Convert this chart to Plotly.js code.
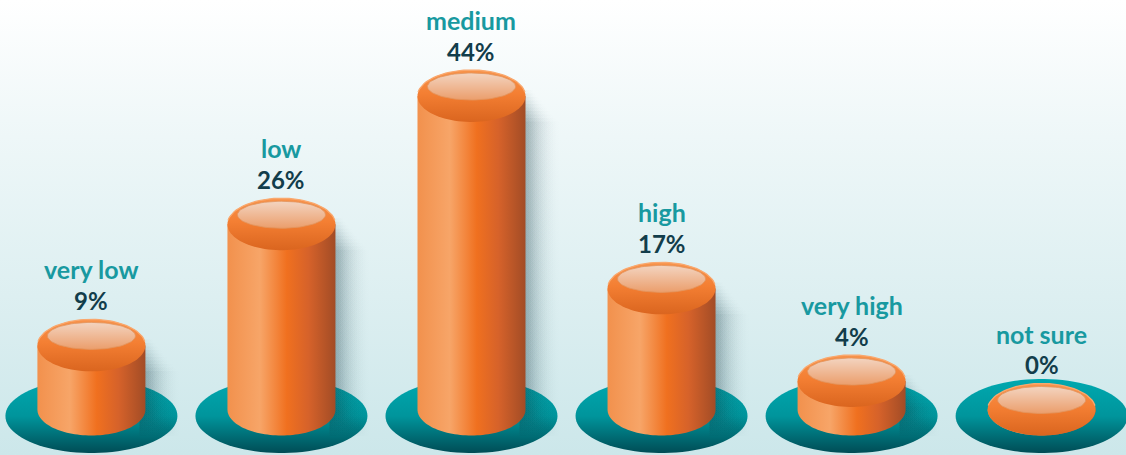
<!DOCTYPE html>
<html><head><meta charset="utf-8">
<script src="https://cdn.plot.ly/plotly-3.0.1.min.js"></script>
<style>
html,body{margin:0;padding:0;overflow:hidden;}
#chart{width:1126px;height:455px;background:linear-gradient(to bottom,#ffffff 0%,#eef7f8 30%,#cce7ea 100%);}
</style></head><body><div id="chart"></div>
<script>
const categories = ['very low', 'low', 'medium', 'high', 'very high', 'not sure'];
const percentValues = [9, 26, 44, 17, 4, 0];
const percentLabels = ['9%', '26%', '44%', '17%', '4%', '0%'];

const W = 1126, H = 455;
const xRange = [-0.481, 5.444];
const yRange = [-6.386, 57.474];
const ux = (xRange[1] - xRange[0]) / W; // data units per pixel (x)
const uy = (yRange[1] - yRange[0]) / H; // data units per pixel (y)

// sizes in pixels
const halfW = 54 * ux, capRy = 26 * uy;
const baseRx = 86 * ux, baseRy = 37 * uy, baseDy = -6.5 * uy;
const hiRx = 44 * ux, hiRy = 13.5 * uy, hiDy = 9.5 * uy;

function arc(cx, cy, rx, ry, t0, t1, n) {
  const xs = [], ys = [];
  for (let k = 0; k <= n; k++) {
    const t = t0 + (t1 - t0) * k / n;
    xs.push(cx + rx * Math.cos(t));
    ys.push(cy + ry * Math.sin(t));
  }
  return [xs, ys];
}
function poly(xs, ys, grad, extra) {
  return Object.assign({type: 'scatter', x: xs, y: ys, mode: 'none', fill: 'toself',
    fillgradient: grad, hoverinfo: 'skip', showlegend: false}, extra || {});
}

const traces = [];
const annotations = [];
categories.forEach((cat, i) => {
  const v = percentValues[i];
  const cx = i;
  // teal base
  const [bx, by] = arc(cx, baseDy, baseRx, baseRy, 0, 2 * Math.PI, 90);
  traces.push(poly(bx, by, {type: 'vertical', start: baseDy + baseRy, stop: baseDy - baseRy,
    colorscale: [[0, '#00a8af'], [0.5, '#00959c'], [1, '#004c55']]}));
  // soft shadow on the right
  if (v > 0) {
    for (let k = 0; k < 10; k++) {
      const x0 = cx + halfW - 6 * ux, x1 = cx + halfW + (8 + 3 * k) * ux;
      const yTop = v - (k * 3.5 - 6) * uy, yBot = -(4 + 2.5 * k) * uy;
      traces.push(poly([x0, x1, x1, x0, x0], [yTop, yTop, yBot, yBot, yTop],
        {type: 'horizontal', start: x0, stop: x1,
         colorscale: [[0, 'rgba(20,60,70,0.06)'], [1, 'rgba(20,60,70,0)']]}));
    }
  }
  // body
  const [ax, ay] = arc(cx, 0, halfW, capRy, Math.PI, 2 * Math.PI, 60);
  const bodyX = [cx - halfW].concat(ax, [cx + halfW, cx - halfW]);
  const bodyY = [v].concat(ay, [v, v]);
  traces.push(poly(bodyX, bodyY, {type: 'horizontal', start: cx - halfW, stop: cx + halfW,
    colorscale: [[0, '#f2914d'], [0.3, '#f7a568'], [0.55, '#f0701f'], [0.75, '#d6622a'], [1, '#a24c26']]}));
  // cap
  const [cxs, cys] = arc(cx, v, halfW, capRy, 0, 2 * Math.PI, 90);
  traces.push(poly(cxs, cys, {type: 'vertical', start: v + capRy, stop: v - capRy,
    colorscale: [[0, '#f7934b'], [0.45, '#f47f33'], [1, '#da651f']]}));
  // top rim
  const [rx, ry] = arc(cx, v, halfW, capRy, 0.15, Math.PI - 0.15, 40);
  traces.push({type: 'scatter', x: rx, y: ry, mode: 'lines', line: {color: '#f9a86e', width: 1.3},
    hoverinfo: 'skip', showlegend: false});
  // highlight
  const [hx, hy] = arc(cx, v + hiDy, hiRx, hiRy, 0, 2 * Math.PI, 80);
  traces.push(poly(hx, hy, {type: 'vertical', start: v + hiDy + hiRy, stop: v + hiDy - hiRy,
    colorscale: [[0, '#f3d4c0'], [1, '#eb9e6c']]},
    {mode: 'lines', line: {color: '#e2955f', width: 0.8}}));
  // labels
  annotations.push({x: cx, y: v, xref: 'x', yref: 'y', text: cat, showarrow: false,
    yshift: 76, yanchor: 'middle', font: {family: 'Lato', size: 25, weight: 700, color: '#1899a0'}});
  annotations.push({x: cx, y: v, xref: 'x', yref: 'y', text: percentLabels[i], showarrow: false,
    yshift: 45, yanchor: 'middle', font: {family: 'Lato', size: 24, weight: 700, color: '#123d4b'}});
});

const layout = {
  width: W, height: H,
  margin: {l: 0, r: 0, t: 0, b: 0},
  paper_bgcolor: 'rgba(0,0,0,0)', plot_bgcolor: 'rgba(0,0,0,0)',
  xaxis: {range: xRange, visible: false, fixedrange: true},
  yaxis: {range: yRange, visible: false, fixedrange: true},
  showlegend: false, hovermode: false,
  annotations: annotations
};
Plotly.newPlot('chart', traces, layout, {staticPlot: true, displayModeBar: false});
</script></body></html>
